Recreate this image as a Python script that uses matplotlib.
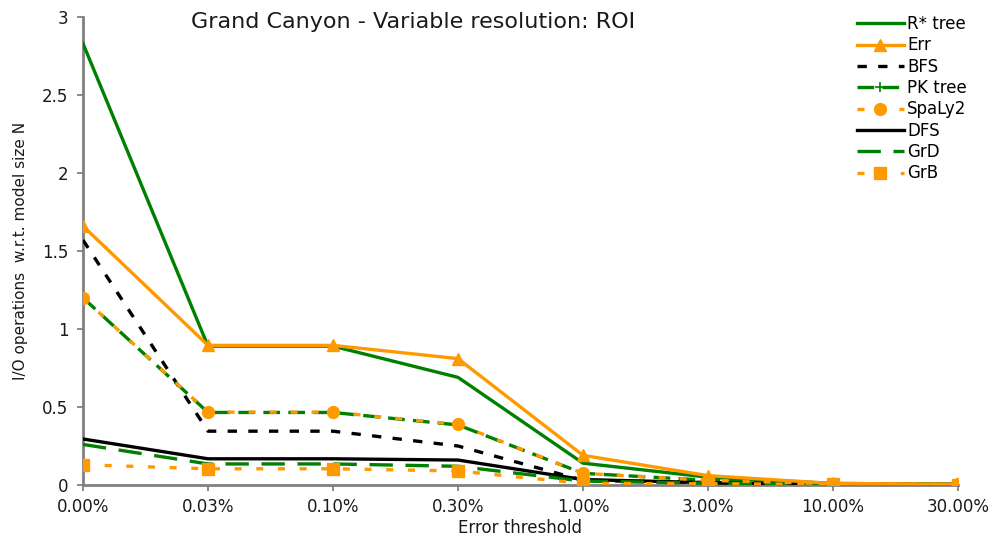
import matplotlib
matplotlib.use("Agg")
import matplotlib.pyplot as plt

# --- Data ---
THRESHOLDS = ["0.00%", "0.03%", "0.10%", "0.30%", "1.00%", "3.00%", "10.00%", "30.00%"]

rstar  = [2.83, 0.89, 0.89, 0.69, 0.14, 0.05, 0.010, 0.005]
err    = [1.66, 0.895, 0.895, 0.81, 0.19, 0.06, 0.010, 0.005]
bfs    = [1.57, 0.345, 0.345, 0.25, 0.030, 0.015, 0.005, 0.003]
pktree = [1.20, 0.465, 0.465, 0.385, 0.075, 0.030, 0.008, 0.004]
spaly2 = [1.20, 0.467, 0.467, 0.388, 0.075, 0.030, 0.008, 0.004]
dfs    = [0.295, 0.168, 0.168, 0.16, 0.035, 0.015, 0.005, 0.003]
grd    = [0.26, 0.135, 0.135, 0.12, 0.025, 0.012, 0.005, 0.003]
grb    = [0.13, 0.104, 0.104, 0.09, 0.010, 0.008, 0.004, 0.003]

# --- Style ---
GREEN  = "#008000"
ORANGE = "#FF9900"
BLACK  = "#000000"
AXIS   = "#808080"
LW     = 2.4

plt.rcParams["font.family"] = ["DejaVu Sans"]

x = list(range(len(THRESHOLDS)))

fig = plt.figure(figsize=(9.94, 5.37), dpi=100)
ax = fig.add_axes([83 / 994, 1 - 485 / 537, (958 - 83) / 994, (485 - 17) / 537])

ax.plot(x, rstar, color=GREEN, lw=LW, label="R* tree", zorder=3)
ax.plot(x, err, color=ORANGE, lw=LW, marker="^", ms=9, label="Err", zorder=4)
ax.plot(x, bfs, color=BLACK, lw=LW, dashes=(2.8, 3.4), label="BFS", zorder=3)
ax.plot(x, pktree, color=GREEN, lw=LW, dashes=(5, 2.5), marker="+", ms=7,
        mew=1.2, label="PK tree", zorder=3)
ax.plot(x, spaly2, color=ORANGE, lw=LW, dashes=(2.1, 4.2), marker="o", ms=8.5,
        label="SpaLy2", zorder=4)
ax.plot(x, dfs, color=BLACK, lw=LW, label="DFS", zorder=3)
ax.plot(x, grd, color=GREEN, lw=LW, dashes=(7, 3.8), label="GrD", zorder=3)
ax.plot(x, grb, color=ORANGE, lw=LW, dashes=(2.1, 4.4), marker="s", ms=8,
        label="GrB", zorder=4)

ax.set_xlim(0, 7)
ax.set_ylim(0, 3)
ax.set_xticks(x)
ax.set_xticklabels(THRESHOLDS)
ax.set_yticks([0, 0.5, 1, 1.5, 2, 2.5, 3])
ax.set_yticklabels(["0", "0.5", "1", "1.5", "2", "2.5", "3"])

ax.tick_params(axis="both", labelsize=12, colors=AXIS, labelcolor="#1a1a1a",
               length=4.5, width=1.3)
ax.tick_params(axis="x", pad=5)
ax.tick_params(axis="y", pad=6)

ax.spines["top"].set_visible(False)
ax.spines["right"].set_visible(False)
for side in ("left", "bottom"):
    ax.spines[side].set_color(AXIS)
    ax.spines[side].set_linewidth(2)
    ax.spines[side].set_zorder(1)

ax.set_xlabel("Error threshold", fontsize=12, color="#1a1a1a", labelpad=2)
ax.set_ylabel("I/O operations  w.r.t. model size N", fontsize=11,
              color="#1a1a1a", labelpad=10)

fig.text(413 / 994, 1 - 22 / 537, "Grand Canyon - Variable resolution: ROI",
         fontsize=16, ha="center", va="center", color="#1a1a1a")

fig.legend(loc="upper left", bbox_to_anchor=(857 / 994, 1 - 15 / 537),
           frameon=False, fontsize=12, handlelength=2.8, handletextpad=0.2,
           labelspacing=0.2, borderpad=0, borderaxespad=0)

fig.savefig("out.png", dpi=100)
